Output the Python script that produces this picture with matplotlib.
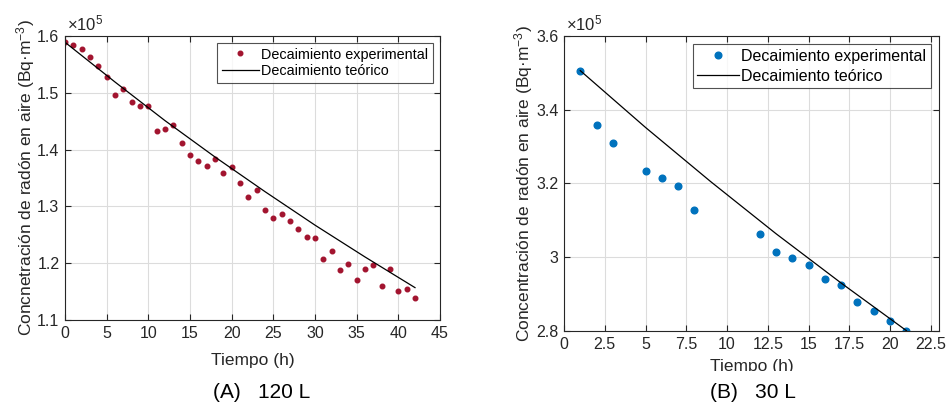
import numpy as np
import matplotlib
matplotlib.use('Agg')
import matplotlib.pyplot as plt
from matplotlib.patches import Rectangle

plt.rcParams['font.family'] = ['Liberation Sans', 'DejaVu Sans']
plt.rcParams['mathtext.fontset'] = 'custom'
plt.rcParams['mathtext.rm'] = 'Liberation Sans'
plt.rcParams['mathtext.it'] = 'Liberation Sans'

# (A) 120 L  -- values in units of 1e5 Bq/m3
t_a = list(range(0, 43))
exp_a = [1.589, 1.584, 1.577, 1.563, 1.547, 1.528, 1.496, 1.507, 1.484, 1.477,
         1.476, 1.433, 1.437, 1.443, 1.412, 1.390, 1.380, 1.371, 1.383, 1.358,
         1.369, 1.341, 1.317, 1.328, 1.293, 1.279, 1.287, 1.274, 1.260, 1.247,
         1.245, 1.207, 1.221, 1.188, 1.198, 1.171, 1.189, 1.197, 1.159, 1.190,
         1.151, 1.155, 1.139]
t_a_teo = [0, 6, 12, 18, 24, 30, 36, 42]
teo_a = [1.589, 1.519, 1.451, 1.387, 1.326, 1.267, 1.211, 1.157]

# (B) 30 L
t_b = [1, 2, 3, 5, 6, 7, 8, 12, 13, 14, 15, 16, 17, 18, 19, 20, 21]
exp_b = [3.506, 3.358, 3.309, 3.235, 3.214, 3.194, 3.129, 3.064, 3.013, 2.997,
         2.979, 2.942, 2.925, 2.878, 2.854, 2.827, 2.801]
t_b_teo = [1, 5, 9, 13, 17, 21]
teo_b = [3.506, 3.352, 3.205, 3.064, 2.930, 2.801]

W, H = 947, 405
fig = plt.figure(figsize=(W / 100, H / 100), dpi=100)

axis_col = '#262626'


def make_axes(px):
    x0, y0, x1, y1 = px
    return fig.add_axes([x0 / W, 1 - y1 / H, (x1 - x0) / W, (y1 - y0) / H])


def style(ax, ylabel, leg_fs, leg_sp, xpad, ypad):
    ax.grid(True, color='#dcdcdc', linewidth=0.8)
    ax.set_axisbelow(True)
    for s in ax.spines.values():
        s.set_color(axis_col)
        s.set_linewidth(0.8)
    ax.tick_params(direction='in', top=True, right=True, labelsize=11.5,
                   colors=axis_col, length=4, width=0.8, pad=4)
    ax.set_xlabel('Tiempo (h)', fontsize=12.5, color=axis_col, labelpad=xpad)
    ax.set_ylabel(ylabel, fontsize=12.5, color=axis_col, labelpad=ypad)
    ax.text(0.005, 1.008, r'$\times10^{5}$', transform=ax.transAxes,
            fontsize=12, color=axis_col, ha='left', va='bottom')
    leg = ax.legend(loc='upper right', fontsize=leg_fs, frameon=True, fancybox=False,
                    borderaxespad=0.5, handlelength=2.6, borderpad=0.3,
                    labelspacing=leg_sp, handletextpad=0.15)
    leg.get_frame().set_edgecolor(axis_col)
    leg.get_frame().set_linewidth(0.8)


# panel A
ax1 = make_axes((65, 36, 440, 320))
ax1.plot(t_a, exp_a, 'o', color='#A2142F', markersize=3.3,
         label='Decaimiento experimental')
ax1.plot(t_a_teo, teo_a, '-', color='black', linewidth=0.9,
         label='Decaimiento teórico')
ax1.set_xlim(0, 45)
ax1.set_ylim(1.1, 1.6)
ax1.set_xticks(np.arange(0, 46, 5))
ax1.set_yticks([1.1, 1.2, 1.3, 1.4, 1.5, 1.6])
style(ax1, 'Concnetración de radón en aire (Bq·m$^{-3}$)', 10.4, 0.2, 9, 0)

# panel B
ax2 = make_axes((564, 36, 939, 331))
ax2.plot(t_b, exp_b, 'o', color='#0072BD', markersize=4.8,
         label='Decaimiento experimental')
ax2.plot(t_b_teo, teo_b, '-', color='black', linewidth=0.9,
         label='Decaimiento teórico')
ax2.set_xlim(0, 23)
ax2.set_ylim(2.8, 3.6)
ax2.set_xticks(np.arange(0, 23, 2.5))
ax2.set_xticklabels(['0', '2.5', '5', '7.5', '10', '12.5', '15', '17.5', '20', '22.5'])
ax2.set_yticks([2.8, 3.0, 3.2, 3.4, 3.6])
ax2.set_yticklabels(['2.8', '3', '3.2', '3.4', '3.6'])
style(ax2, 'Concentración de radón en aire (Bq·m$^{-3}$)', 11.5, 0.3, 5, 1)

# white band that cuts the bottom of the right x label, as in the source figure
fig.add_artist(Rectangle((500 / W, 0), 447 / W, 1 - 371 / H,
                         transform=fig.transFigure, facecolor='white',
                         edgecolor='none', zorder=5))

fig.text(262 / W, 1 - 392 / H, '(A)   120 L', fontsize=15, ha='center', va='center',
         zorder=6)
fig.text(753 / W, 1 - 392 / H, '(B)   30 L', fontsize=15, ha='center', va='center',
         zorder=6)

fig.savefig('out.png', dpi=100, facecolor='white')
